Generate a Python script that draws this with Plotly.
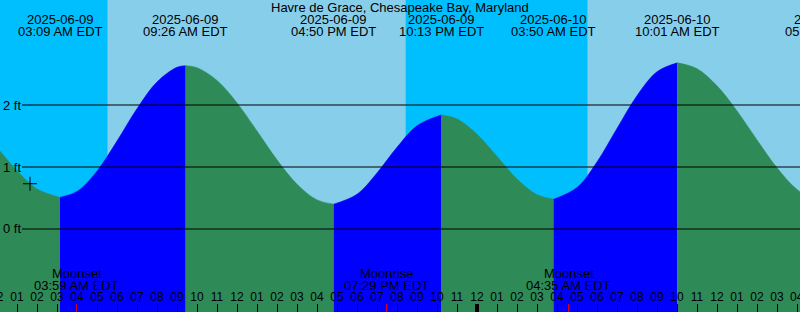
import plotly.graph_objects as go
import pandas as pd

# ---------------- data ----------------
curve_times = [
    "2025-06-08 21:33", "2025-06-08 22:00", "2025-06-08 23:00",
    "2025-06-09 00:00", "2025-06-09 01:00", "2025-06-09 02:00", "2025-06-09 03:09",
    "2025-06-09 04:00", "2025-06-09 05:00", "2025-06-09 06:00", "2025-06-09 07:00",
    "2025-06-09 08:00", "2025-06-09 09:00", "2025-06-09 09:26",
    "2025-06-09 10:00", "2025-06-09 11:00", "2025-06-09 12:00", "2025-06-09 13:00",
    "2025-06-09 14:00", "2025-06-09 15:00", "2025-06-09 16:00", "2025-06-09 16:50",
    "2025-06-09 18:00", "2025-06-09 19:00", "2025-06-09 20:00", "2025-06-09 21:00",
    "2025-06-09 22:13",
    "2025-06-09 23:00", "2025-06-10 00:00", "2025-06-10 01:00", "2025-06-10 02:00",
    "2025-06-10 03:00", "2025-06-10 03:50",
    "2025-06-10 05:00", "2025-06-10 06:00", "2025-06-10 07:00", "2025-06-10 08:00",
    "2025-06-10 09:00", "2025-06-10 10:01",
    "2025-06-10 11:00", "2025-06-10 12:00", "2025-06-10 13:00", "2025-06-10 14:00",
    "2025-06-10 15:00", "2025-06-10 16:00", "2025-06-10 17:00", "2025-06-10 17:30",
]
curve_heights = [
    1.85, 1.83, 1.64,
    1.31, 0.94, 0.645, 0.51,
    0.605, 0.933, 1.418, 1.941,
    2.372, 2.609, 2.634,
    2.602, 2.396, 2.034, 1.58,
    1.115, 0.722, 0.469, 0.40,
    0.56, 0.904, 1.317, 1.666,
    1.84,
    1.776, 1.529, 1.17, 0.807,
    0.553, 0.48,
    0.668, 1.082, 1.622, 2.151,
    2.536, 2.68,
    2.585, 2.31, 1.904, 1.436,
    0.987, 0.637, 0.445, 0.42,
]

extreme_times = ["2025-06-08 21:33", "2025-06-09 03:09", "2025-06-09 09:26", "2025-06-09 16:50",
                 "2025-06-09 22:13", "2025-06-10 03:50", "2025-06-10 10:01", "2025-06-10 17:30"]
extreme_dates = ["2025-06-08", "2025-06-09", "2025-06-09", "2025-06-09",
                 "2025-06-09", "2025-06-10", "2025-06-10", "2025-06-10"]
extreme_clock = ["09:33 PM EDT", "03:09 AM EDT", "09:26 AM EDT", "04:50 PM EDT",
                 "10:13 PM EDT", "03:50 AM EDT", "10:01 AM EDT", "05:30 PM EDT"]

sun_times = ["2025-06-09 05:32", "2025-06-09 20:26", "2025-06-10 05:32"]  # rise, set, rise

moon_times = ["2025-06-09 03:59", "2025-06-09 19:29", "2025-06-10 04:35"]
moon_kinds = ["Moonset", "Moonrise", "Moonset"]
moon_clock = ["03:59 AM EDT", "07:29 PM EDT", "04:35 AM EDT"]

now_time = "2025-06-09 01:39"
now_height = 0.73

midnight_times = ["2025-06-10 00:00"]
edge_hour_times = ["2025-06-09 00:00", "2025-06-10 16:00"]   # hour labels cut by the window edges
edge_hour_labels = ["12", "04"]

y_ticks = [0, 1, 2]
y_tick_labels = ["0 ft", "1 ft", "2 ft"]

title_text = "Havre de Grace, Chesapeake Bay, Maryland"

x_range = ["2025-06-09 00:09", "2025-06-10 16:09"]
y_range = [-1.339, 3.694]

# ---------------- styles ----------------
NIGHT = "#00BFFF"
DAY = "#87CEEB"
RISE = "#0000FF"
FALL = "#2E8B57"
FONT = "Liberation Sans, Arial, sans-serif"
H = 312
W = 800

ct = pd.to_datetime(curve_times)
ch = list(curve_heights)
et = pd.to_datetime(extreme_times)
r0, r1 = pd.to_datetime(x_range[0]), pd.to_datetime(x_range[1])


def frac(t):
    return (pd.to_datetime(t) - r0) / (r1 - r0)


def py(px):  # pixel from top -> paper y
    return 1 - px / H


fig = go.Figure()

# tide fills, one per rising/falling segment
base = y_range[0] - 1
for i in range(len(et) - 1):
    a, b = et[i], et[i + 1]
    xs = [t for t, h in zip(ct, ch) if a <= t <= b]
    ys = [h for t, h in zip(ct, ch) if a <= t <= b]
    col = RISE if ys[-1] > ys[0] else FALL
    fig.add_trace(go.Scatter(x=[a, b], y=[base, base], mode="lines",
                             line=dict(width=0, color=col), hoverinfo="skip", showlegend=False))
    fig.add_trace(go.Scatter(x=xs, y=ys, mode="lines", fill="tonexty", fillcolor=col,
                             line=dict(width=0.6, color=col, shape="spline"),
                             hoverinfo="skip", showlegend=False))

# current time marker
fig.add_trace(go.Scatter(x=[pd.to_datetime(now_time)], y=[now_height], mode="markers",
                         marker=dict(symbol="cross-thin", size=10, line=dict(width=1, color="black")),
                         hoverinfo="skip", showlegend=False))

shapes = []
# day / night background
edges = [x_range[0]] + sun_times + [x_range[1]]
for i in range(len(edges) - 1):
    shapes.append(dict(type="rect", xref="x", yref="paper", x0=edges[i], x1=edges[i + 1],
                       y0=0, y1=1, fillcolor=NIGHT if i % 2 == 0 else DAY,
                       line=dict(width=0), layer="below"))
# datum lines
for v in y_ticks:
    shapes.append(dict(type="line", xref="paper", yref="y", x0=22 / W, x1=1, y0=v, y1=v,
                       line=dict(color="black", width=1), layer="above"))
# midnight ticks
for t in midnight_times:
    shapes.append(dict(type="line", xref="x", yref="paper", x0=t, x1=t, y0=0, y1=8 / H,
                       line=dict(color="black", width=4), layer="above"))
# moon ticks
for t in moon_times:
    shapes.append(dict(type="line", xref="x", yref="paper", x0=t, x1=t, y0=0, y1=8 / H,
                       line=dict(color="red", width=1), layer="above"))

ann = []
tf = dict(family=FONT, size=13, color="black")
ann.append(dict(text=title_text, xref="paper", yref="paper", x=0.5, y=py(7),
                xanchor="center", yanchor="middle", showarrow=False, font=tf))
for t, d, c in zip(extreme_times, extreme_dates, extreme_clock):
    fx = frac(t)
    if fx < -0.2 or fx > 1.2:
        continue
    ann.append(dict(text=d, xref="paper", yref="paper", x=fx, y=py(19.5),
                    xanchor="center", yanchor="middle", showarrow=False, font=tf))
    ann.append(dict(text=c, xref="paper", yref="paper", x=fx, y=py(31.5),
                    xanchor="center", yanchor="middle", showarrow=False, font=tf))
for t, k, c in zip(moon_times, moon_kinds, moon_clock):
    ann.append(dict(text=k, xref="x", yref="paper", x=t, y=py(273.5),
                    xanchor="center", yanchor="middle", showarrow=False, font=tf))
    ann.append(dict(text=c, xref="x", yref="paper", x=t, y=py(285.5),
                    xanchor="center", yanchor="middle", showarrow=False, font=tf))
for v, lab in zip(y_ticks, y_tick_labels):
    ann.append(dict(text=lab, xref="paper", yref="y", x=0, y=v, xshift=1,
                    xanchor="left", yanchor="middle", showarrow=False, font=tf))
for t, lab in zip(edge_hour_times, edge_hour_labels):
    ann.append(dict(text=lab, xref="paper", yref="paper", x=frac(t), y=py(296.5),
                    xanchor="center", yanchor="middle", showarrow=False,
                    font=dict(family=FONT, size=12, color="black")))

fig.update_layout(
    width=W, height=H, margin=dict(l=0, r=0, t=0, b=0),
    paper_bgcolor=DAY, plot_bgcolor=DAY,
    shapes=shapes, annotations=ann, showlegend=False,
    xaxis=dict(type="date", range=x_range, showgrid=False, zeroline=False, showline=False,
               ticks="inside", ticklen=8, tickwidth=1, tickcolor="black",
               ticklabelposition="inside", tickformat="%I",
               dtick=3600000, tick0="2025-06-09 00:00",
               tickfont=dict(family=FONT, size=12, color="black")),
    yaxis=dict(range=y_range, visible=False, fixedrange=True),
)

fig.write_html("out.html")
